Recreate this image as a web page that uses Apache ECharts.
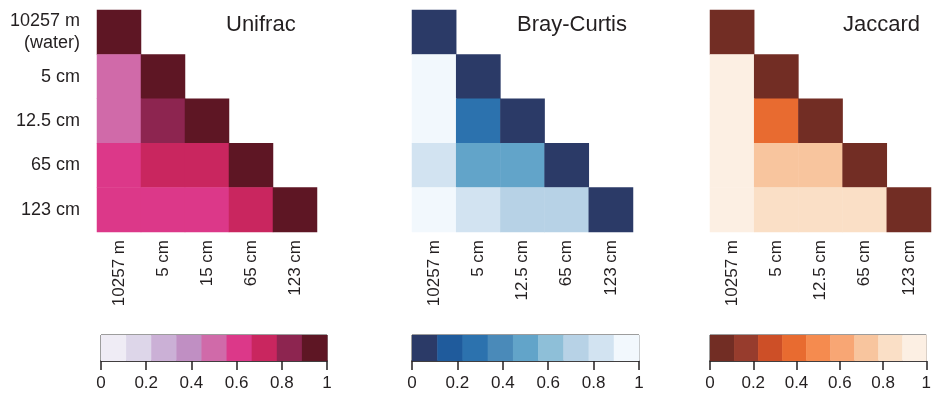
<!DOCTYPE html>
<html>
<head>
<meta charset="utf-8">
<script src="https://cdn.jsdelivr.net/npm/echarts@6/dist/echarts.min.js"></script>
<style>
  html, body { margin: 0; padding: 0; background: #fff; }
  #chart { width: 934px; height: 399px; }
</style>
</head>
<body>
<div id="chart"></div>
<script>
// Sample depths
const rowLabels = ['10257 m\n(water)', '5 cm', '12.5 cm', '65 cm', '123 cm'];
const colLabelsUnifrac = ['10257 m', '5 cm', '15 cm', '65 cm', '123 cm'];
const colLabels = ['10257 m', '5 cm', '12.5 cm', '65 cm', '123 cm'];

// Lower-triangular matrices, one row per depth (row i has i+1 entries)
const unifrac = [
  [1],
  [0.5, 1],
  [0.5, 0.85, 1],
  [0.6, 0.72, 0.72, 1],
  [0.6, 0.6, 0.6, 0.72, 1]
];
const brayCurtis = [
  [0],
  [0.95, 0],
  [0.95, 0.3, 0],
  [0.85, 0.5, 0.5, 0],
  [0.95, 0.85, 0.75, 0.75, 0]
];
const jaccard = [
  [0],
  [0.95, 0],
  [0.95, 0.4, 0],
  [0.95, 0.7, 0.7, 0],
  [0.95, 0.85, 0.85, 0.85, 0]
];

// Nine-step palettes, from value 0 to value 1
const paletteUnifrac = ['#efecf5', '#ddd6e9', '#cbb0d6', '#c08fc3', '#d06aa9', '#dc3889', '#c9265f', '#8d2550', '#5e1624'];
const paletteBray = ['#2b3a67', '#1f5b9c', '#2c72ae', '#4a8ab9', '#62a4c9', '#8ebfd8', '#b7d2e6', '#d2e3f1', '#f2f8fd'];
const paletteJaccard = ['#722d24', '#973c2d', '#cd4f27', '#e86b30', '#f58b4f', '#f8a674', '#f8c59e', '#fadfc6', '#fcefe3'];

const colorbarTicks = ['0', '0.2', '0.4', '0.6', '0.8', '1'];
const titles = ['Unifrac', 'Bray-Curtis', 'Jaccard'];

const FONT = "'Liberation Sans', Arial, Helvetica, sans-serif";
const TXT = '#231f20';

function toCells(matrix) {
  const out = [];
  matrix.forEach((row, y) => row.forEach((v, x) => out.push([x, y, v])));
  return out;
}

// one visualMap piece per palette step, equal widths over [0, 1]
function pieces(palette) {
  const n = palette.length;
  return palette.map((c, i) => i === n - 1
    ? { gte: i / n, lte: 1, color: c }
    : { gte: i / n, lt: (i + 1) / n, color: c });
}

// colour-bar segments: [start, end, palette index]
function bins(palette) {
  const n = palette.length;
  return palette.map((c, i) => [i / n, (i + 1) / n, i]);
}

const panels = [
  { left: 97, width: 220, cbLeft: 101, cbWidth: 226, cols: colLabelsUnifrac, data: unifrac, pal: paletteUnifrac, showY: true, titleLeft: 226 },
  { left: 412, width: 221, cbLeft: 412, cbWidth: 227, cols: colLabels, data: brayCurtis, pal: paletteBray, showY: false, titleLeft: 517 },
  { left: 710, width: 221, cbLeft: 710, cbWidth: 226, cols: colLabels, data: jaccard, pal: paletteJaccard, showY: false, titleLeft: 843 }
];

const grid = [], xAxis = [], yAxis = [], series = [], visualMap = [], title = [];

panels.forEach((p, k) => {
  // heatmap panel
  grid.push({ left: p.left, top: 10, width: p.width, height: 222 });
  xAxis.push({
    type: 'category', gridIndex: grid.length - 1, data: p.cols, position: 'bottom',
    axisLine: { show: false }, axisTick: { show: false }, splitLine: { show: false },
    axisLabel: { rotate: 90, margin: 8, fontSize: 17, color: TXT, fontFamily: FONT, interval: 0 }
  });
  yAxis.push({
    type: 'category', gridIndex: grid.length - 1, data: rowLabels, inverse: true,
    axisLine: { show: false }, axisTick: { show: false }, splitLine: { show: false },
    axisLabel: { show: p.showY, margin: 17, fontSize: 18, lineHeight: 22, color: TXT, fontFamily: FONT, align: 'right' }
  });
  series.push({
    type: 'heatmap', xAxisIndex: xAxis.length - 1, yAxisIndex: yAxis.length - 1,
    data: toCells(p.data), itemStyle: { borderWidth: 0 }, emphasis: { disabled: true }
  });
  visualMap.push({
    type: 'piecewise', show: false, seriesIndex: series.length - 1, dimension: 2,
    pieces: pieces(p.pal)
  });
  title.push({
    text: titles[k], left: p.titleLeft, top: 14, padding: 0,
    textStyle: { fontSize: 22, fontWeight: 'normal', color: TXT, fontFamily: FONT }
  });

  // colour bar
  grid.push({ left: p.cbLeft, top: 335, width: p.cbWidth, height: 26, show: true, borderColor: '#3a3a3a', borderWidth: 1 });
  xAxis.push({
    type: 'value', gridIndex: grid.length - 1, min: 0, max: 1, interval: 0.2,
    axisLine: { show: true, lineStyle: { color: '#231f20', width: 1.5 } },
    axisTick: { show: true, length: 9, lineStyle: { color: '#231f20', width: 1.5 } },
    splitLine: { show: false },
    axisLabel: { margin: 14, fontSize: 17, color: TXT, fontFamily: FONT,
      formatter: v => colorbarTicks[Math.round(v * 5)] }
  });
  yAxis.push({ type: 'value', gridIndex: grid.length - 1, min: 0, max: 1, show: false });
  const pal = p.pal;
  series.push({
    type: 'custom', xAxisIndex: xAxis.length - 1, yAxisIndex: yAxis.length - 1,
    data: bins(pal), silent: true,
    renderItem: (params, api) => {
      const a = api.coord([api.value(0), 1]);
      const b = api.coord([api.value(1), 0]);
      return {
        type: 'rect',
        shape: { x: a[0], y: a[1], width: b[0] - a[0] + 0.5, height: b[1] - a[1] },
        style: { fill: pal[api.value(2)] }
      };
    }
  });
});

const chart = echarts.init(document.getElementById('chart'), null, { renderer: 'canvas' });
chart.setOption({
  animation: false,
  backgroundColor: '#ffffff',
  title, grid, xAxis, yAxis, series, visualMap
});
</script>
</body>
</html>
